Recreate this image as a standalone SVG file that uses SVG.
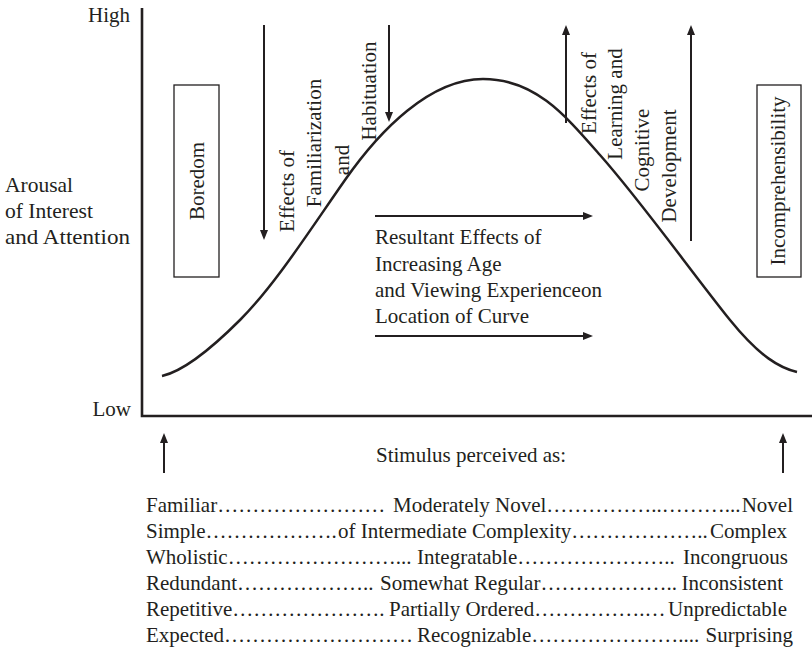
<svg xmlns="http://www.w3.org/2000/svg" width="812" height="652" viewBox="0 0 812 652">
<defs>
<marker id="ah" markerUnits="userSpaceOnUse" markerWidth="12" markerHeight="10" refX="4" refY="4" orient="auto">
<path d="M0,0 L10,4 L0,8 Z" fill="#231f20"/>
</marker>
</defs>
<rect width="812" height="652" fill="#ffffff"/>
<g id="axes">
<path d="M142,8 L142,416 L812,416" fill="none" stroke="#231f20" stroke-width="2.6"/>
<text x="130" y="22" text-anchor="end" font-family="Liberation Serif" font-size="21" fill="#231f20">High</text>
<text x="131" y="416" text-anchor="end" font-family="Liberation Serif" font-size="21" fill="#231f20">Low</text>
<text x="5" y="192" textLength="68" lengthAdjust="spacingAndGlyphs" font-family="Liberation Serif" font-size="21" fill="#231f20">Arousal</text>
<text x="5" y="218" textLength="88" lengthAdjust="spacingAndGlyphs" font-family="Liberation Serif" font-size="21" fill="#231f20">of Interest</text>
<text x="5" y="244" textLength="125" lengthAdjust="spacingAndGlyphs" font-family="Liberation Serif" font-size="21" fill="#231f20">and Attention</text>
</g>
<g id="curve">
<path d="M162,376 C180,372 205,355 240,320 C275,285 310,230 345,180 C380,130 430,79 483,79 C535,79 565,115 600,155 C640,200 690,270 730,320 C760,357 780,368 797,372" fill="none" stroke="#231f20" stroke-width="2.5"/>
</g>
<g id="boredom">
<rect x="174" y="85" width="45" height="192" fill="none" stroke="#231f20" stroke-width="1.3"/>
<text transform="translate(204,181) rotate(-90)" text-anchor="middle" font-family="Liberation Serif" font-size="21" fill="#231f20">Boredom</text>
</g>
<g id="incomprehensibility">
<rect x="757" y="85" width="44" height="192" fill="none" stroke="#231f20" stroke-width="1.3"/>
<text transform="translate(785,181) rotate(-90)" text-anchor="middle" font-family="Liberation Serif" font-size="21" fill="#231f20">Incomprehensibility</text>
</g>
<g id="familiarization">
<text transform="translate(294,191) rotate(-90)" text-anchor="middle" font-family="Liberation Serif" font-size="21" fill="#231f20">Effects of</text>
<text transform="translate(321,143) rotate(-90)" text-anchor="middle" font-family="Liberation Serif" font-size="21" fill="#231f20">Familiarization</text>
<text transform="translate(349,160) rotate(-90)" text-anchor="middle" font-family="Liberation Serif" font-size="21" fill="#231f20">and</text>
<text transform="translate(376,91) rotate(-90)" text-anchor="middle" font-family="Liberation Serif" font-size="21" fill="#231f20">Habituation</text>
</g>
<g id="learning">
<text transform="translate(596,93) rotate(-90)" text-anchor="middle" font-family="Liberation Serif" font-size="21" fill="#231f20">Effects of</text>
<text transform="translate(622,104) rotate(-90)" text-anchor="middle" font-family="Liberation Serif" font-size="21" fill="#231f20">Learning and</text>
<text transform="translate(649,150) rotate(-90)" text-anchor="middle" font-family="Liberation Serif" font-size="21" fill="#231f20">Cognitive</text>
<text transform="translate(676,166) rotate(-90)" text-anchor="middle" font-family="Liberation Serif" font-size="21" fill="#231f20">Development</text>
</g>
<g id="resultant">
<text x="375" y="244" font-family="Liberation Serif" font-size="21" fill="#231f20">Resultant Effects of</text>
<text x="375" y="271" font-family="Liberation Serif" font-size="21" fill="#231f20">Increasing Age</text>
<text x="375" y="297" font-family="Liberation Serif" font-size="21" fill="#231f20">and Viewing Experienceon</text>
<text x="375" y="323" font-family="Liberation Serif" font-size="21" fill="#231f20">Location of Curve</text>
</g>
<g id="connectors" fill="none" stroke="#231f20" stroke-width="2">
<line x1="264" y1="25" x2="264" y2="234" marker-end="url(#ah)"/>
<line x1="389" y1="25" x2="389" y2="116" marker-end="url(#ah)"/>
<line x1="566" y1="123" x2="566" y2="31" marker-end="url(#ah)"/>
<line x1="691" y1="241" x2="691" y2="31" marker-end="url(#ah)"/>
<line x1="375" y1="216" x2="587" y2="216" marker-end="url(#ah)"/>
<line x1="375" y1="336" x2="587" y2="336" marker-end="url(#ah)"/>
<line x1="164" y1="473" x2="164" y2="439" marker-end="url(#ah)"/>
<line x1="783" y1="473" x2="783" y2="439" marker-end="url(#ah)"/>
</g>
<g id="stimulus">
<text x="376" y="462" font-family="Liberation Serif" font-size="21" fill="#231f20">Stimulus perceived as:</text>
<text y="512" font-family="Liberation Serif" font-size="21" fill="#231f20"><tspan x="146">Familiar&#8230;&#8230;&#8230;&#8230;&#8230;&#8230;&#8230;&#8230; </tspan><tspan x="393">Moderately Novel&#8230;&#8230;&#8230;&#8230;&#8230;..&#8230;&#8230;&#8230;...</tspan><tspan x="793" text-anchor="end">Novel</tspan></text>
<text y="538" font-family="Liberation Serif" font-size="21" fill="#231f20"><tspan x="146">Simple&#8230;&#8230;&#8230;&#8230;&#8230;&#8230;.</tspan><tspan x="338">of Intermediate Complexity&#8230;&#8230;&#8230;&#8230;&#8230;&#8230;..</tspan><tspan x="787" text-anchor="end">Complex</tspan></text>
<text y="564" font-family="Liberation Serif" font-size="21" fill="#231f20"><tspan x="146">Wholistic&#8230;&#8230;&#8230;&#8230;&#8230;&#8230;&#8230;&#8230;...</tspan><tspan x="417">Integratable&#8230;&#8230;&#8230;&#8230;&#8230;&#8230;&#8230;..</tspan><tspan x="788" text-anchor="end">Incongruous</tspan></text>
<text y="590" font-family="Liberation Serif" font-size="21" fill="#231f20"><tspan x="146">Redundant&#8230;&#8230;&#8230;&#8230;&#8230;&#8230;..</tspan><tspan x="380">Somewhat Regular&#8230;&#8230;&#8230;&#8230;&#8230;&#8230;..</tspan><tspan x="783" text-anchor="end">Inconsistent</tspan></text>
<text y="616" font-family="Liberation Serif" font-size="21" fill="#231f20"><tspan x="146">Repetitive&#8230;&#8230;&#8230;&#8230;&#8230;&#8230;&#8230;.</tspan><tspan x="389">Partially Ordered&#8230;&#8230;&#8230;&#8230;&#8230;.&#8230;</tspan><tspan x="787" text-anchor="end">Unpredictable</tspan></text>
<text y="642" font-family="Liberation Serif" font-size="21" fill="#231f20"><tspan x="146">Expected&#8230;&#8230;&#8230;&#8230;&#8230;&#8230;&#8230;&#8230;&#8230;</tspan><tspan x="417">Recognizable&#8230;&#8230;&#8230;&#8230;&#8230;&#8230;&#8230;....</tspan><tspan x="793" text-anchor="end">Surprising</tspan></text>
</g>
</svg>
